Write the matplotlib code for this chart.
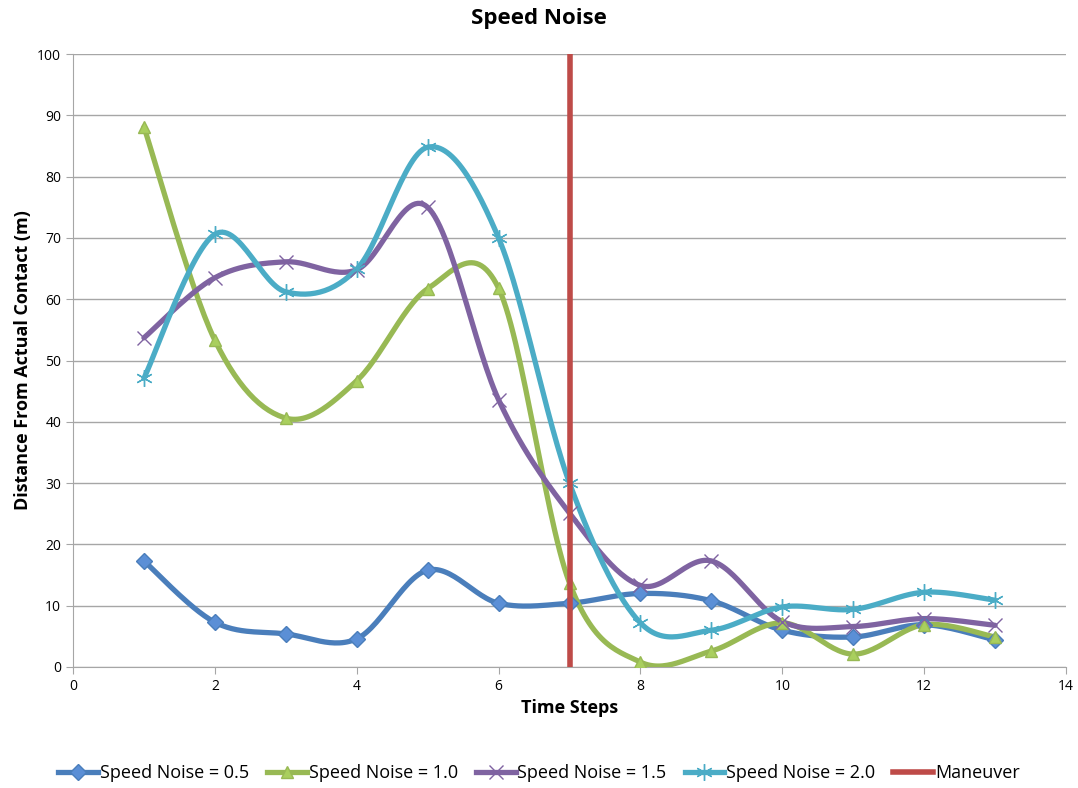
import numpy as np
import matplotlib.pyplot as plt

steps = list(range(1, 14))
noise_05 = [17.3, 7.3, 5.4, 4.6, 15.8, 10.4, 10.4, 12.0, 10.8, 6.0, 4.9, 6.9, 4.4]
noise_10 = [88.1, 53.3, 40.6, 46.7, 61.7, 61.8, 13.7, 0.8, 2.6, 7.2, 2.1, 6.9, 4.9]
noise_15 = [53.7, 63.5, 66.1, 64.8, 75.0, 43.6, 25.1, 13.3, 17.3, 7.4, 6.6, 7.9, 6.8]
noise_20 = [47.1, 70.6, 61.2, 64.9, 84.8, 70.0, 30.0, 7.2, 6.0, 9.8, 9.4, 12.2, 10.9]
maneuver_x = 7

series = [
    ("Speed Noise = 0.5", noise_05, "#4A7EBB", "D", "#5B8FD6", 8),
    ("Speed Noise = 1.0", noise_10, "#98B954", "^", "#A9CF5E", 9),
    ("Speed Noise = 1.5", noise_15, "#7F63A1", "x", "#7F63A1", 10),
    ("Speed Noise = 2.0", noise_20, "#4BACC6", (6, 2, 0), "#4BACC6", 12),
]


def smooth(x, y, n=30):
    # Excel-style smoothed line (Catmull-Rom bezier)
    x = np.asarray(x, float)
    y = np.asarray(y, float)
    px = np.concatenate([[x[0]], x, [x[-1]]])
    py = np.concatenate([[y[0]], y, [y[-1]]])
    xs, ys = [], []
    t = np.linspace(0, 1, n)
    for i in range(1, len(px) - 2):
        p0, p1, p2, p3 = (np.array([px[j], py[j]]) for j in (i - 1, i, i + 1, i + 2))
        c1 = p1 + (p2 - p0) / 6
        c2 = p2 - (p3 - p1) / 6
        b = ((1 - t) ** 3)[:, None] * p1 + (3 * (1 - t) ** 2 * t)[:, None] * c1 \
            + (3 * (1 - t) * t ** 2)[:, None] * c2 + (t ** 3)[:, None] * p2
        xs.extend(b[:, 0])
        ys.extend(b[:, 1])
    return xs, ys


plt.rcParams['font.family'] = ['Open Sans', 'DejaVu Sans']
fig = plt.figure(figsize=(10.78, 7.88), dpi=100)
ax = fig.add_axes([73 / 1078, 1 - 667 / 788, (1066 - 73) / 1078, (667 - 54) / 788])

handles = []
for label, ys, color, marker, mcolor, ms in series:
    sx, sy = smooth(steps, ys)
    ax.plot(sx, sy, color=color, lw=3.8, solid_capstyle='round', zorder=3)
    ax.plot(steps, ys, ls='none', marker=marker, ms=ms, mfc=mcolor, mec=color,
            mew=1.0, zorder=4)
    h, = ax.plot([], [], color=color, lw=3.8, marker=marker, ms=ms, mfc=mcolor,
                 mec=color, mew=1.0)
    handles.append((h, label))

ax.axvline(maneuver_x, color="#BE4B48", lw=4, zorder=5)
handles.append((ax.plot([], [], color="#BE4B48", lw=4)[0], "Maneuver"))

ax.set_xlim(0, 14)
ax.set_ylim(0, 100)
ax.set_xticks(range(0, 15, 2))
ax.set_yticks(range(0, 101, 10))
ax.yaxis.grid(True, color="#A6A6A6", lw=1)
ax.set_axisbelow(True)
for s in ("top", "right"):
    ax.spines[s].set_visible(False)
for s in ("left", "bottom"):
    ax.spines[s].set_color("#A6A6A6")
ax.tick_params(colors="#A6A6A6", labelcolor="black", labelsize=10, length=5)

ax.set_xlabel("Time Steps", fontsize=13, fontweight="bold")
ax.set_ylabel("Distance From Actual Contact (m)", fontsize=13, fontweight="bold")
fig.suptitle("Speed Noise", y=0.99, fontsize=16, fontweight="bold")

fig.legend([h for h, _ in handles], [l for _, l in handles], loc="lower center",
           ncol=5, frameon=False, fontsize=13, bbox_to_anchor=(0.5, -0.013),
           handlelength=2.2, handletextpad=0.1, columnspacing=1.0)

fig.savefig("out.png", dpi=100)
